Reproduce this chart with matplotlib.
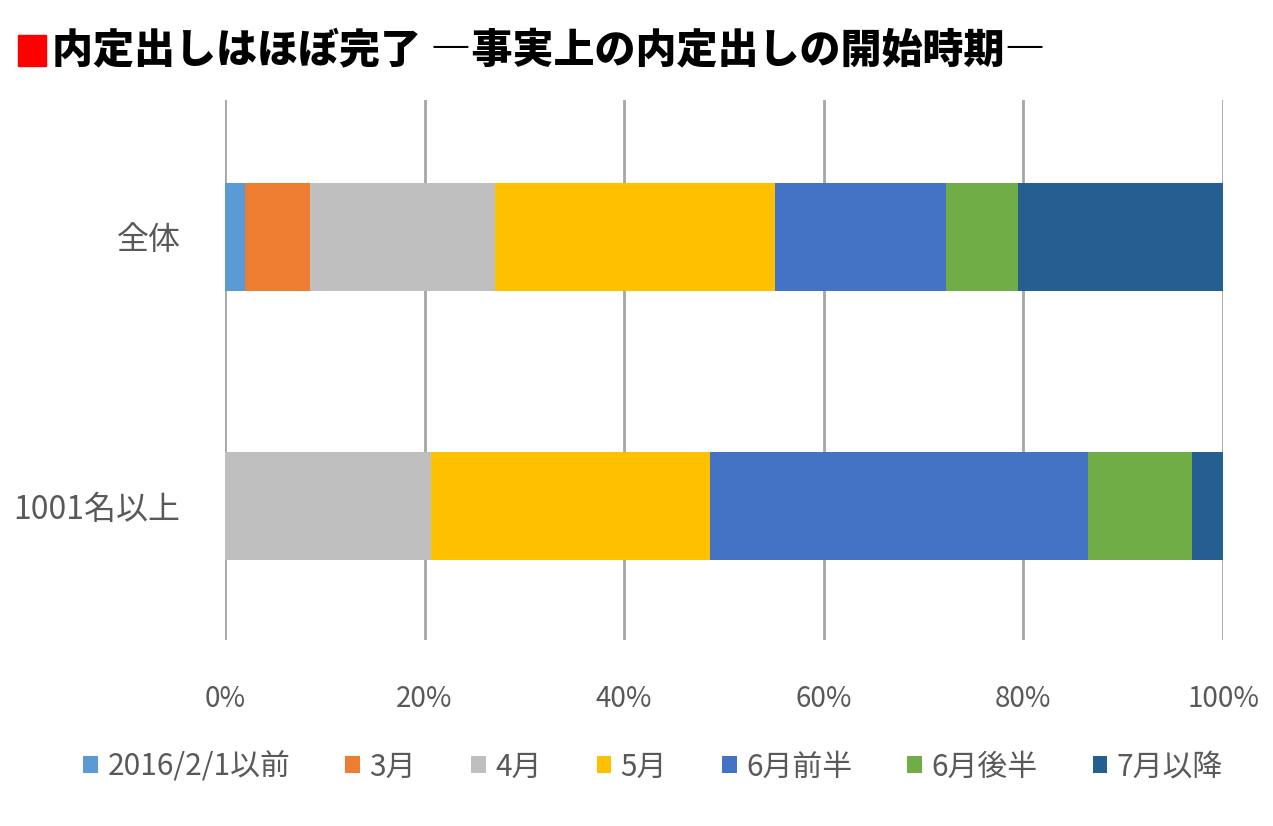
import numpy as np
import matplotlib.pyplot as plt
from matplotlib.patches import Rectangle

plt.rcParams['font.family'] = ['Noto Sans CJK JP', 'DejaVu Sans']

# data (percent)
categories = ['全体', '1001名以上']
series = ['2016/2/1以前', '3月', '4月', '5月', '6月前半', '6月後半', '7月以降']
values_all = [2.0, 6.5, 18.6, 28.0, 17.1, 7.3, 20.5]
values_1001 = [0.0, 0.0, 20.6, 28.0, 37.9, 10.4, 3.1]
colors = ['#5B9BD5', '#ED7D31', '#BFBFBF', '#FFC000', '#4472C4', '#70AD47', '#255E91']
xticks = [0, 20, 40, 60, 80, 100]

data = np.array([values_all, values_1001])

fig = plt.figure(figsize=(12.73, 8.26), dpi=100)
ax = fig.add_axes([225 / 1273, 1 - 640 / 826, 998 / 1273, 540 / 826])

y = np.arange(len(categories))
left = np.zeros(len(categories))
for i, name in enumerate(series):
    ax.barh(y, data[:, i], left=left, height=0.40, color=colors[i], label=name, zorder=3)
    left += data[:, i]

ax.set_xlim(0, 100)
ax.set_ylim(1.498, -0.509)
ax.set_xticks(xticks)
ax.set_xticklabels(['{}%'.format(t) for t in xticks], fontsize=20, color='#595959')
ax.set_yticks(y)
ax.set_yticklabels(categories, fontsize=23, color='#595959')
ax.tick_params(axis='both', length=0)
ax.tick_params(axis='x', pad=32)
ax.tick_params(axis='y', pad=32)
ax.grid(axis='x', color='#A6A6A6', linewidth=2, zorder=0)
for s in ['top', 'right', 'bottom', 'left']:
    ax.spines[s].set_visible(False)

# title with red square
fig.patches.append(Rectangle((18 / 1273, 1 - 66 / 826), 28 / 1273, 31 / 826,
                             transform=fig.transFigure, color='#FF0000', zorder=5))
fig.text(52 / 1273, 1 - 50 / 826, '内定出しはほぼ完了 ―事実上の内定出しの開始時期―',
         fontsize=29.5, fontweight='black', color='black', va='center', ha='left')

fig.legend(loc='center', bbox_to_anchor=(0.513, 1 - 767 / 826), ncol=7, frameon=False,
           fontsize=21.5, handlelength=0.5, handleheight=0.5, handletextpad=0.3,
           columnspacing=1.85, labelcolor='#595959')

fig.savefig('out.png', dpi=100)
